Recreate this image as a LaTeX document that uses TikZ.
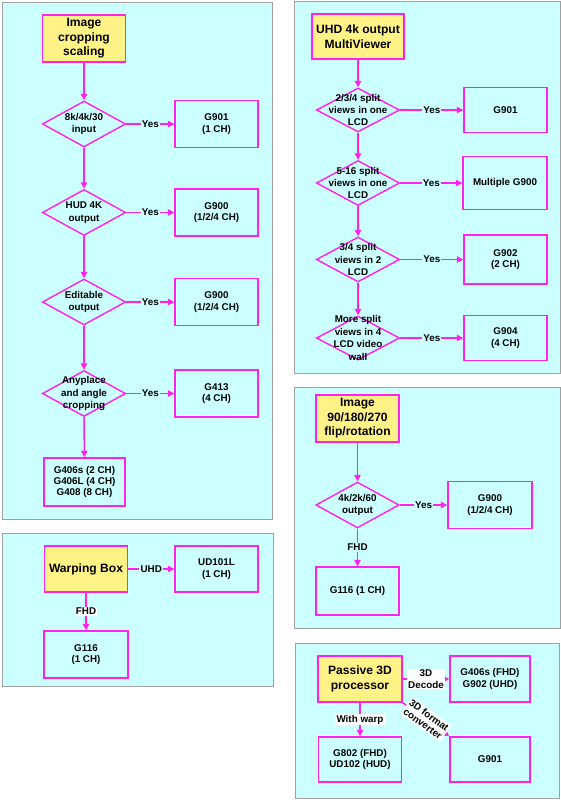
\documentclass[tikz,border=0pt]{standalone}
\usepackage{fontspec}
\setmainfont{Liberation Sans}
\usetikzlibrary{shapes.geometric,arrows.meta}
\definecolor{panelc}{HTML}{CCFFFF}
\definecolor{framec}{HTML}{A0A0A0}
\definecolor{ylw}{HTML}{FFF388}
\definecolor{mag}{HTML}{FF22EE}
\tikzset{
  panel/.style={draw=framec, fill=panelc, line width=0.8pt},
  titlebox/.style={draw=mag, fill=ylw, line width=1.2pt, align=center, inner sep=1pt,
    font=\bfseries\fontsize{10.3}{12.4}\selectfont, minimum width=2.49cm, minimum height=1.41cm},
  prodbox/.style={draw=mag, fill=panelc, line width=1.2pt, align=center, inner sep=1pt,
    font=\bfseries\fontsize{8.4}{9.6}\selectfont, minimum width=2.49cm, minimum height=1.41cm},
  decision/.style={diamond, draw=mag, line width=1.2pt, inner sep=0pt, minimum width=2.5cm,
    minimum height=1.38cm, label={[align=center, font=\bfseries\fontsize{8.4}{10.6}\selectfont]center:#1}},
  arr/.style={draw=mag, line width=1.3pt, -{Triangle[length=5.5pt,width=5.5pt]}},
  yes/.style={fill=panelc, inner sep=1pt, font=\bfseries\fontsize{8.4}{9.6}\selectfont},
  tag/.style={fill=white, inner sep=1pt, align=center, font=\bfseries\fontsize{8.4}{9.6}\selectfont}
}
\begin{document}
\begin{tikzpicture}[x=0.03cm, y=-0.03cm]
\useasboundingbox (0,0) rectangle (561,800);

% panels
\draw[panel] (2,2) rectangle (272,519);
\draw[panel] (2,533) rectangle (273,686);
\draw[panel] (294,1) rectangle (560,373);
\draw[panel] (294,387) rectangle (560,628);
\draw[panel] (295,643) rectangle (559,798);

% image cropping scaling
\node[titlebox] (crop) at (84,38.5) {Image\\cropping\\scaling};
\node[decision={8k/4k/30\\input}] (in8k) at (84,124) {};
\node[prodbox] (cropA) at (216.5,124) {G901\\(1 CH)};
\node[decision={HUD 4K\\output}] (hud) at (84,212.5) {};
\node[prodbox] (cropB) at (216.5,212.5) {G900\\(1/2/4 CH)};
\node[decision={Editable\\output}] (edit) at (84,302) {};
\node[prodbox] (cropC) at (216.5,302) {G900\\(1/2/4 CH)};
\node[decision={Anyplace\\and angle\\cropping}] (any) at (84,393.5) {};
\node[prodbox] (cropD) at (216.5,393.5) {G413\\(4 CH)};
\node[prodbox, minimum width=2.43cm, minimum height=1.44cm] (cropE) at (84.5,482) {G406s (2 CH)\\G406L (4 CH)\\G408 (8 CH)};

\draw[arr] (crop) -- (in8k);
\draw[arr] (in8k) -- (hud);
\draw[arr] (hud) -- (edit);
\draw[arr] (edit) -- (any);
\draw[arr] (any) -- (cropE);
\draw[arr] (in8k) -- node[yes]{Yes} (cropA);
\draw[arr] (hud) -- node[yes]{Yes} (cropB);
\draw[arr] (edit) -- node[yes]{Yes} (cropC);
\draw[arr] (any) -- node[yes]{Yes} (cropD);

% warping box
\node[titlebox, minimum height=1.38cm] (warp) at (86,569) {Warping Box};
\node[prodbox, minimum height=1.38cm] (warpA) at (216.5,569) {UD101L\\(1 CH)};
\node[prodbox, minimum width=2.52cm] (warpB) at (86,654.5) {G116\\(1 CH)};
\draw[arr] (warp) -- node[yes]{UHD} (warpA);
\draw[arr] (warp) -- node[tag]{FHD} (warpB);

% multiviewer
\node[titlebox, minimum width=2.76cm, minimum height=1.35cm] (multi) at (358,36.5) {UHD 4k output\\MultiViewer};
\node[decision={2/3/4 split\\views in one\\LCD}, minimum height=1.32cm] (one) at (358,110) {};
\node[prodbox, minimum height=1.35cm] (multiA) at (505.5,110) {G901};
\node[decision={5-16 split\\views in one\\LCD}, minimum height=1.35cm] (many) at (358,183) {};
\node[prodbox, minimum width=2.52cm, minimum height=1.59cm] (multiB) at (505,183) {Multiple G900};
\node[decision={3/4 split\\views in 2\\LCD}, minimum height=1.35cm] (two) at (358,259.5) {};
\node[prodbox, minimum height=1.47cm] (multiC) at (505.5,259.5) {G902\\(2 CH)};
\node[decision={More split\\views in 4\\LCD video\\wall}, minimum height=1.32cm] (wall) at (358,338) {};
\node[prodbox, minimum height=1.35cm] (multiD) at (505.5,338) {G904\\(4 CH)};

\draw[arr] (multi) -- (one);
\draw[arr] (one) -- (many);
\draw[arr] (many) -- (two);
\draw[arr] (two) -- (wall);
\draw[arr] (one) -- node[yes]{Yes} (multiA);
\draw[arr] (many) -- node[yes]{Yes} (multiB);
\draw[arr] (two) -- node[yes]{Yes} (multiC);
\draw[arr] (wall) -- node[yes]{Yes} (multiD);

% rotation
\node[titlebox] (rot) at (357.5,418.5) {Image\\90/180/270\\flip/rotation};
\node[decision={4k/2k/60\\output}] (out4k) at (357.5,505) {};
\node[prodbox, minimum width=2.52cm] (rotA) at (490,505) {G900\\(1/2/4 CH)};
\node[prodbox, minimum height=1.44cm] (rotB) at (357.5,591) {G116 (1 CH)};
\draw[arr] (rot) -- (out4k);
\draw[arr] (out4k) -- node[yes]{Yes} (rotA);
\draw[arr] (out4k) -- node[tag, fill=panelc]{FHD} (rotB);

% passive 3D
\node[titlebox, minimum width=2.52cm, minimum height=1.38cm] (pass) at (360,679) {Passive 3D\\processor};
\node[prodbox, minimum width=2.4cm, minimum height=1.38cm] (passA) at (490,679) {G406s (FHD)\\G902 (UHD)};
\node[prodbox, minimum height=1.35cm] (passB) at (360,759.5) {G802 (FHD)\\UD102 (HUD)};
\node[prodbox, minimum width=2.4cm, minimum height=1.35cm] (passC) at (490,759.5) {G901};
\draw[arr] (pass) -- node[tag]{3D\\Decode} (passA);
\draw[arr] (pass) -- node[tag]{With warp} (passB);
\draw[arr] (pass.south east) -- node[tag, sloped, font=\bfseries\fontsize{8.4}{9}\selectfont]{3D format\\converter} (passC.north west);
\end{tikzpicture}
\end{document}
